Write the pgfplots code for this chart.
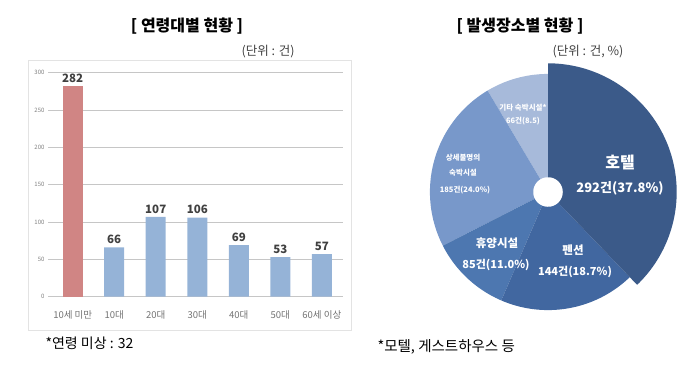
\documentclass[border=0pt]{standalone}
\usepackage{fontspec}
\setmainfont{Noto Sans CJK KR}
\usepackage{pgfplots}
\pgfplotsset{compat=1.18}
\usepgfplotslibrary{polar}
\definecolor{barblue}{HTML}{95B3D7}
\definecolor{barred}{HTML}{D08584}
\definecolor{photel}{HTML}{3B5A89}
\definecolor{ppension}{HTML}{4167A0}
\definecolor{presort}{HTML}{4D77B0}
\definecolor{punclear}{HTML}{7898CA}
\definecolor{pother}{HTML}{A7BADA}
\definecolor{txt}{HTML}{404040}
\begin{document}
\begin{tikzpicture}
\useasboundingbox (0pt,0pt) rectangle (698pt,-375pt);
% ---------- left: bar chart ----------
\draw[draw=gray!22, line width=0.8pt] (28pt,-60pt) rectangle (351.5pt,-330pt);
\begin{axis}[at={(48pt,-296.7pt)}, anchor=south west, scale only axis,
  width=295pt, height=224pt,
  xmin=-0.595, xmax=6.51, ymin=0, ymax=300,
  ytick={0,50,...,300}, ymajorgrids, grid style={gray!45, line width=0.6pt},
  axis line style={draw=none}, major tick length=0,
  xtick={0,...,6},
  xticklabels={10세 미만,10대,20대,30대,40대,50대,60세 이상},
  ybar, bar width=20pt, bar shift=0pt,
  nodes near coords,
  nodes near coords style={font=\fontsize{11.5}{11.5}\selectfont\bfseries, text=txt},
  yticklabel style={font=\fontsize{6}{6}\selectfont, text=gray},
  xticklabel style={font=\fontsize{9.5}{9.5}\selectfont, text=gray!90!black, yshift=-10pt},
  /pgf/number format/assume math mode=true, clip=false]
\addplot[draw=none, fill=barred] coordinates {(0,282)};
\addplot[draw=none, fill=barblue] coordinates {(1,66) (2,107) (3,106) (4,69) (5,53) (6,57)};
\end{axis}
\node[font=\fontsize{16}{16}\selectfont\bfseries, text=black] at (187pt,-26pt) {[ 연령대별 현황 ]};
\node[font=\fontsize{12.5}{12.5}\selectfont, text=txt] at (268pt,-52pt) {(단위 : 건)};
\node[font=\fontsize{14}{14}\selectfont, text=black, anchor=west] at (42pt,-343pt) {*연령 미상 : 32};
% ---------- right: pie chart ----------
% values: 호텔 292, 펜션 144, 휴양시설 85, 상세불명 185, 기타 66 (total 772), clockwise from 90 deg
\begin{polaraxis}[at={(548pt,-192pt)}, anchor=center, scale only axis,
  width=257.4pt, height=257.4pt, ymin=0, ymax=1.09, hide axis, clip=false]
\addplot[draw=none, fill=pother, domain=-270:-239.22, samples=30] {1} -- (axis cs:0,0) -- cycle;
\addplot[draw=none, fill=punclear, domain=-239.22:-152.95, samples=60] {1} -- (axis cs:0,0) -- cycle;
\addplot[draw=none, fill=presort, domain=-152.95:-113.31, samples=40] {1} -- (axis cs:0,0) -- cycle;
\addplot[draw=none, fill=ppension, domain=-113.31:-46.17, samples=50] {1} -- (axis cs:0,0) -- cycle;
\addplot[draw=none, fill=photel, domain=-46.17:90, samples=90] {1.09} -- (axis cs:0,0) -- cycle;
\addplot[draw=none, fill=white, domain=0:360, samples=60] {0.125} -- cycle;
\end{polaraxis}
\node[font=\fontsize{16}{16}\selectfont\bfseries, text=black] at (520pt,-26pt) {[ 발생장소별 현황 ]};
\node[font=\fontsize{12.5}{12.5}\selectfont, text=txt] at (588pt,-52pt) {(단위 : 건, \%)};
\node[font=\fontsize{14.5}{14.5}\selectfont, text=black, anchor=west] at (374pt,-347pt) {*모텔, 게스트하우스 등};
% pie labels
\begin{scope}[every node/.style={text=white, font=\fontsize{7.5}{7.5}\selectfont\bfseries}]
\node at (523pt,-108pt) {기타 숙박시설*};
\node at (523pt,-121pt) {66건(8.5)};
\node at (463pt,-158pt) {상세불명의};
\node at (463pt,-173pt) {숙박시설};
\node at (465pt,-190pt) {185건(24.0\%)};
\node[font=\fontsize{16}{16}\selectfont\bfseries] at (620pt,-162pt) {호텔};
\node[font=\fontsize{13}{13}\selectfont\bfseries] at (620pt,-188pt) {292건(37.8\%)};
\node[font=\fontsize{11.5}{11.5}\selectfont\bfseries] at (497pt,-243pt) {휴양시설};
\node[font=\fontsize{11}{11}\selectfont\bfseries] at (496pt,-265pt) {85건(11.0\%)};
\node[font=\fontsize{11.5}{11.5}\selectfont\bfseries] at (573pt,-250pt) {펜션};
\node[font=\fontsize{11}{11}\selectfont\bfseries] at (575pt,-272pt) {144건(18.7\%)};
\end{scope}
\end{tikzpicture}
\end{document}
